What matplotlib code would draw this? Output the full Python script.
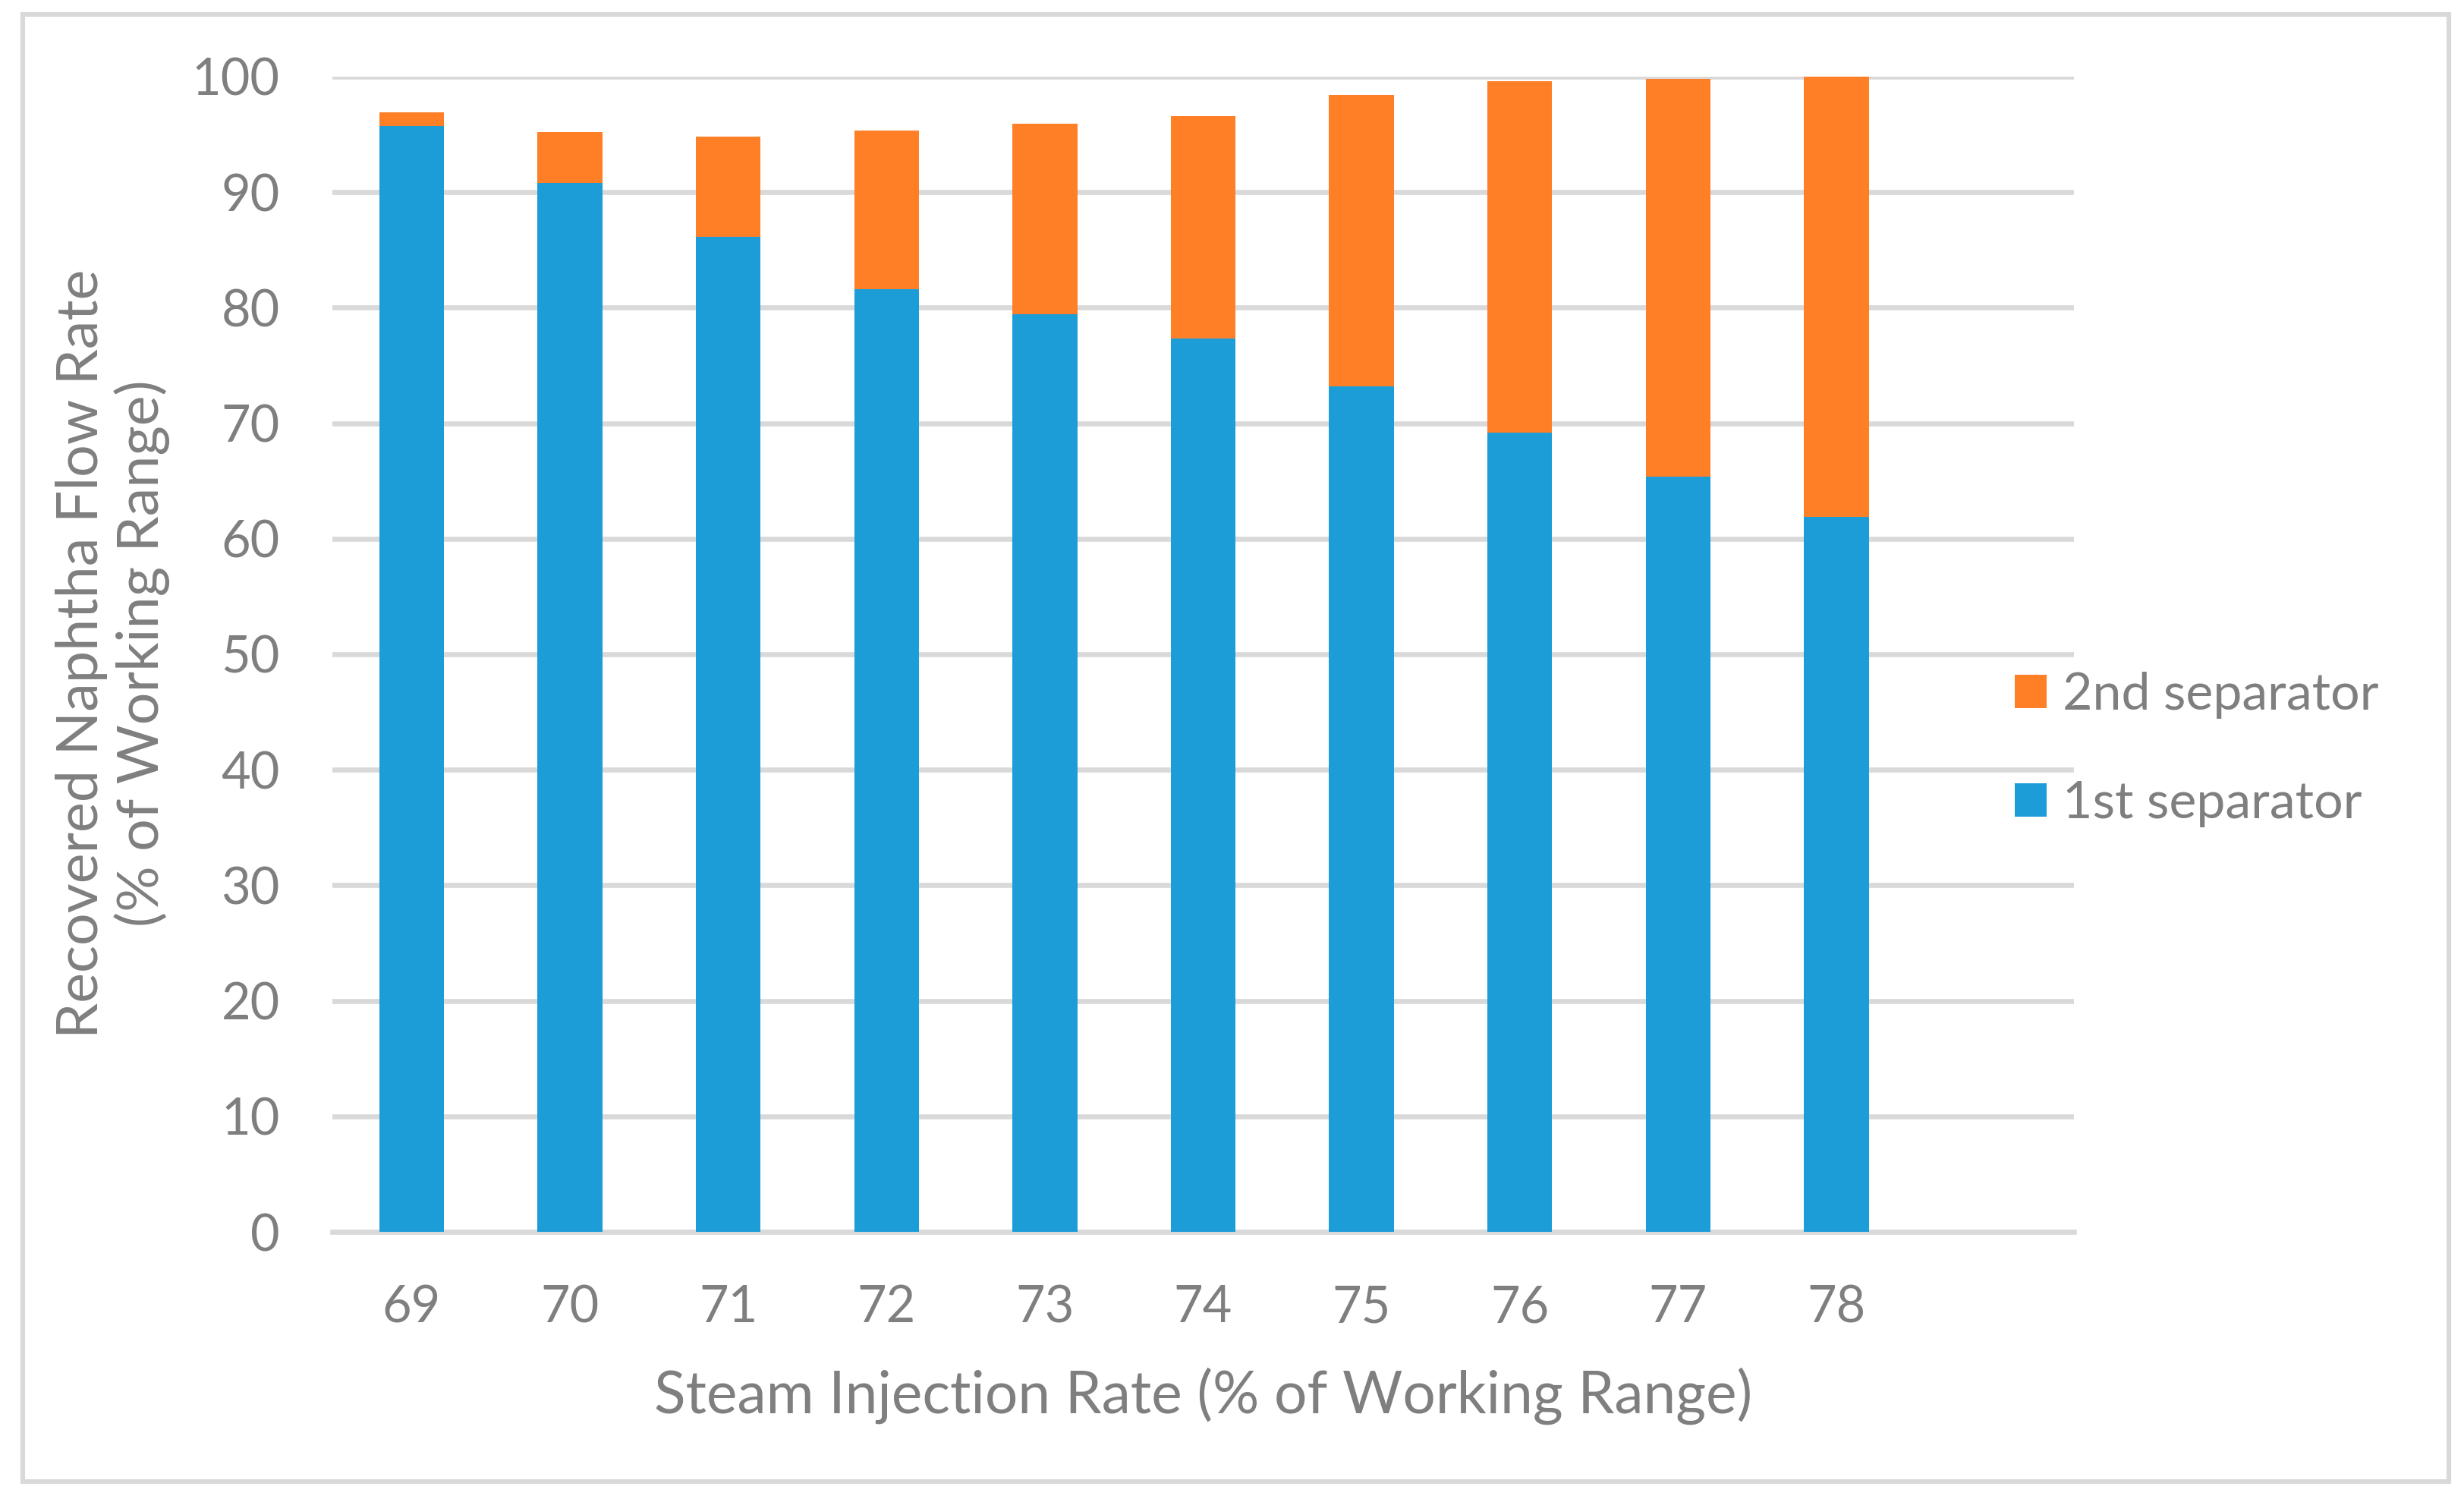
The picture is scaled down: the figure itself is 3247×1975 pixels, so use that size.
import matplotlib
matplotlib.use("Agg")
import matplotlib.pyplot as plt
from matplotlib.patches import Rectangle

# values
rates = ["69", "70", "71", "72", "73", "74", "75", "76", "77", "78"]
first_sep = [95.7, 90.8, 86.1, 81.6, 79.4, 77.3, 73.2, 69.2, 65.4, 61.9]
second_sep = [1.2, 4.4, 8.7, 13.7, 16.5, 19.3, 25.2, 30.4, 34.4, 38.1]
yticks = [0, 10, 20, 30, 40, 50, 60, 70, 80, 90, 100]

blue = "#1D9DD8"
orange = "#FF7F27"
grey_txt = "#7F7F7F"
grey_line = "#D9D9D9"

plt.rcParams["font.family"] = ["Lato", "DejaVu Sans"]

fig = plt.figure(figsize=(16.24, 9.875), dpi=200)
ax = fig.add_axes([0.1349, 0.1782, 0.7065, 0.7707])

x = list(range(len(rates)))
b1 = ax.bar(x, first_sep, width=0.41, color=blue, label="1st separator", zorder=3)
b2 = ax.bar(x, second_sep, width=0.41, bottom=first_sep, color=orange,
            label="2nd separator", zorder=3)

ax.set_xlim(-0.5, 10.5)  # empty slot on the right, like the original
ax.set_ylim(0, 100)
ax.set_xticks(x)
ax.set_xticklabels(rates)
ax.set_yticks(yticks)

ax.yaxis.grid(True, color=grey_line, lw=2.4)
ax.set_axisbelow(True)
for s in ["top", "right", "left"]:
    ax.spines[s].set_visible(False)
ax.spines["bottom"].set_color(grey_line)
ax.spines["bottom"].set_linewidth(2.4)

ax.tick_params(axis="both", length=0, labelsize=24, labelcolor=grey_txt, pad=25)

ax.set_xlabel("Steam Injection Rate (% of Working Range)", fontsize=27.6,
              color=grey_txt, labelpad=17)
fig.text(0.0457, 0.564, "Recovered Naphtha Flow Rate\n(% of Working Range)",
         rotation=90, ha="center", va="center", ma="center", fontsize=27.2,
         color=grey_txt, linespacing=1.15)

ax.legend([b2, b1], ["2nd separator", "1st separator"], loc="center left",
          bbox_to_anchor=(0.8174, 0.500), bbox_transform=fig.transFigure,
          frameon=False, fontsize=24.5, labelcolor=grey_txt, handlelength=0.62,
          handleheight=0.62, handletextpad=0.3, labelspacing=1.2,
          borderpad=0, borderaxespad=0)

# light grey frame round the whole chart
fig.patches.append(Rectangle((0.00924, 0.01165), 0.99354 - 0.00924, 0.99013 - 0.01165,
                             transform=fig.transFigure, fill=False,
                             edgecolor=grey_line, lw=2.2))

fig.savefig("out.png", dpi=200, facecolor="white")
